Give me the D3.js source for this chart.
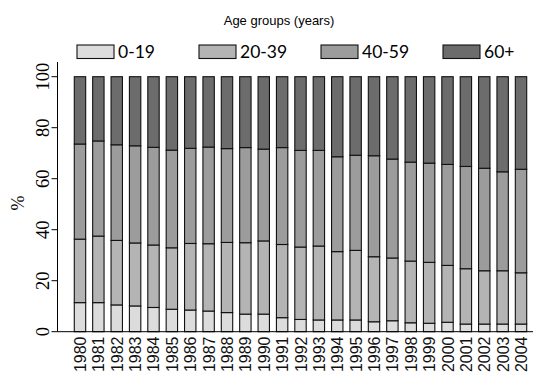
<!DOCTYPE html>
<html>
<head>
<meta charset="utf-8">
<script src="https://cdn.jsdelivr.net/npm/d3@7"></script>
<style>
html,body{margin:0;padding:0;background:#fff;}
svg{display:block;}
</style>
</head>
<body>
<svg id="chart" width="537" height="377"></svg>
<script>
const years = ["1980","1981","1982","1983","1984","1985","1986","1987","1988","1989","1990","1991","1992","1993","1994","1995","1996","1997","1998","1999","2000","2001","2002","2003","2004"];
const groups = ["0-19","20-39","40-59","60+"];
const age0_19  = [11.4,11.4,10.5,10.1,9.5,8.8,8.5,8.1,7.5,6.9,6.9,5.5,4.8,4.6,4.6,4.6,3.9,4.3,3.5,3.3,3.7,3.0,3.0,3.0,3.0];
const age20_39 = [24.9,26.1,25.3,24.7,24.5,24.1,26.1,26.4,27.5,28.0,28.7,28.7,28.4,29.0,26.8,27.3,25.5,24.6,24.2,23.9,22.3,21.7,20.9,20.9,20.1];
const age40_59 = [37.3,37.3,37.5,38.1,38.3,38.3,37.3,37.9,36.8,37.3,36.0,38.0,37.9,37.5,37.2,37.3,39.6,38.8,38.8,38.9,39.6,40.1,40.2,38.8,40.6];
const age60p   = [26.4,25.2,26.7,27.1,27.7,28.8,28.1,27.6,28.2,27.8,28.4,27.8,28.9,28.9,31.4,30.8,31.0,32.3,33.5,33.9,34.4,35.2,35.9,37.3,36.3];
const yTicks = [0,20,40,60,80,100];
const colors = ["#dcdcdc","#b4b4b4","#9c9c9c","#6c6c6c"];

const rows = years.map((y,i)=>({year:y,"0-19":age0_19[i],"20-39":age20_39[i],"40-59":age40_59[i],"60+":age60p[i]}));
const stacked = d3.stack().keys(groups)(rows);

const svg = d3.select("#chart");
const axisX = 57.5, baseY = 331.7, topY = 76.7;

const x = d3.scaleBand().domain(years).range([65.1, 535.9]).paddingInner(0.38).paddingOuter(0.5);
const y = d3.scaleLinear().domain([0,100]).range([baseY, topY]);

// bars
svg.append("g").selectAll("g").data(stacked).join("g")
  .attr("fill",(d,i)=>colors[i])
  .selectAll("rect").data(d=>d).join("rect")
  .attr("x",d=>x(d.data.year))
  .attr("width",x.bandwidth())
  .attr("y",d=>y(d[1]))
  .attr("height",d=>y(d[0])-y(d[1]))
  .attr("stroke","#111")
  .attr("stroke-width",1.1);

// y axis
const ya = svg.append("g");
ya.append("line").attr("x1",axisX).attr("x2",axisX).attr("y1",62).attr("y2",baseY).attr("stroke","#000").attr("stroke-width",1);
ya.selectAll("line.t").data(yTicks).join("line").attr("class","t")
  .attr("x1",axisX-6).attr("x2",axisX).attr("y1",d=>y(d)).attr("y2",d=>y(d)).attr("stroke","#000");
ya.selectAll("text").data(yTicks).join("text")
  .attr("transform",d=>`translate(48.5,${y(d)}) rotate(-90)`)
  .attr("text-anchor","middle")
  .attr("font-family","'Liberation Serif','Times New Roman',serif")
  .attr("font-size",18.5)
  .text(d=>d);
svg.append("text").attr("transform","translate(24,203) rotate(-90)")
  .attr("text-anchor","middle")
  .attr("font-family","'Liberation Serif','Times New Roman',serif")
  .attr("font-size",18).text("%");

// x axis
svg.append("line").attr("x1",axisX).attr("x2",533).attr("y1",baseY).attr("y2",baseY).attr("stroke","#000");
svg.append("g").selectAll("text").data(years).join("text")
  .attr("transform",d=>`translate(${x(d)+x.bandwidth()/2+6},336.5) rotate(-90)`)
  .attr("text-anchor","end")
  .attr("font-family","'Liberation Sans',Arial,sans-serif")
  .attr("font-size",16)
  .attr("fill","#111")
  .text(d=>d);

// legend
svg.append("text").attr("x",279).attr("y",24.5).attr("text-anchor","middle")
  .attr("font-family","'Liberation Sans',Arial,sans-serif").attr("font-size",13)
  .text("Age groups (years)");
const legX = [77,199,321,443];
const lg = svg.append("g").selectAll("g").data(groups).join("g")
  .attr("transform",(d,i)=>`translate(${legX[i]},45)`);
lg.append("rect").attr("width",37).attr("height",13.5)
  .attr("fill",(d,i)=>colors[i]).attr("stroke","#111").attr("stroke-width",1.1);
lg.append("text").attr("x",41).attr("y",13.2)
  .attr("font-family","Lato,'Open Sans',sans-serif").attr("font-size",17.5)
  .text(d=>d);
</script>
</body>
</html>
